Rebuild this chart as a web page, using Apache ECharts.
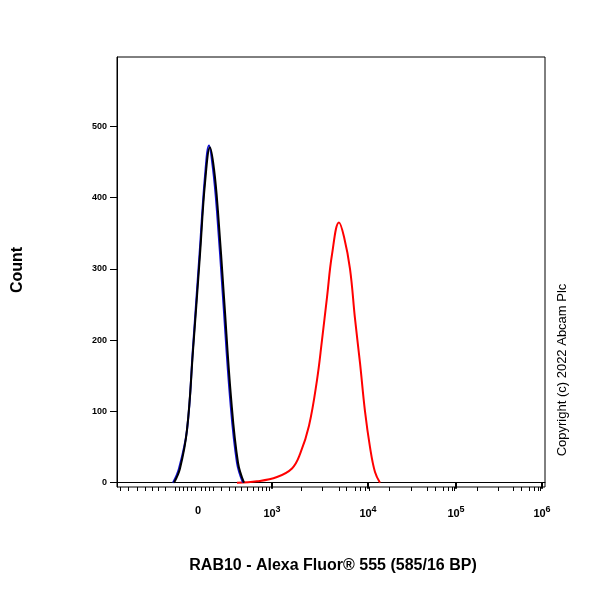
<!DOCTYPE html>
<html><head><meta charset="utf-8">
<script src="https://cdn.jsdelivr.net/npm/echarts@6/dist/echarts.min.js"></script>
<style>html,body{margin:0;background:#fff}#c{width:600px;height:600px}</style>
</head><body><div id="c"></div>
<script>
// x in display units of the biexponential scale (0..428)
const majorPos = [81, 155, 251, 339, 425];
const majorLabels = ['0', '10{s|3}', '10{s|4}', '10{s|5}', '10{s|6}'];
const minorPos = [3,11,20,28,35,41,48,58,62,66,70,74,78,84,88,92,96,104,112,118,124,130,136,141,145,149,152,184,205,222,229,238,243,248,252,272,294,310,318,326,331,335,337,360,381,396,404,412,417,421,423];
const yTicks = [0, 100, 200, 300, 400, 500];
const blueX = [56, 62, 70, 76, 83, 88, 92, 96, 100, 106, 113, 120, 126];
const blueY = [0, 20, 74, 190, 330, 430, 473, 440, 380, 260, 120, 28, 0];
const blackX = [57, 63, 70, 76, 83, 88, 93, 97, 101, 107, 114, 121, 127];
const blackY = [0, 20, 74, 185, 320, 420, 470, 440, 380, 260, 120, 28, 0];
const redX = [120, 140, 160, 175, 183, 192, 200, 205, 210, 215, 222, 227, 233, 238, 243, 248, 253, 258, 263];
const redY = [0, 2, 8, 20, 40, 80, 144, 200, 260, 320, 365, 345, 300, 230, 168, 100, 50, 15, 0];
const zip = (a, b) => a.map((v, i) => [v, b[i]]);
const chart = echarts.init(document.getElementById('c'));
const lbl = {};
majorPos.forEach((p, i) => lbl[p] = majorLabels[i]);
chart.setOption({
  animation: false,
  grid: {left: 117, right: 55, top: 57, bottom: 113, show: true, borderColor: '#000', borderWidth: 1},
  xAxis: [{
    type: 'value', min: 0, max: 428,
    axisLine: {show: true, lineStyle: {color: '#000'}}, splitLine: {show: false},
    axisTick: {show: true, length: 6, lineStyle: {color: '#000', width: 2}, customValues: majorPos.slice(1)},
    axisLabel: {customValues: majorPos, margin: 18, color: '#000', fontFamily: 'Arial', fontWeight: 'bold', fontSize: 11,
      formatter: v => lbl[v] || '', rich: {s: {fontSize: 9, fontWeight: 'bold', verticalAlign: 'top', padding: [0, 0, 8, 0]}}}
  }, {
    type: 'value', min: 0, max: 428, position: 'bottom',
    axisLine: {show: false}, splitLine: {show: false}, axisLabel: {show: false},
    axisTick: {show: true, length: 4, lineStyle: {color: '#000'}, customValues: minorPos}
  }],
  yAxis: {
    type: 'value', min: -6, max: 597,
    axisLine: {show: true, lineStyle: {color: '#000'}}, splitLine: {show: false},
    axisTick: {show: true, length: 7, customValues: yTicks, lineStyle: {color: '#000'}},
    axisLabel: {customValues: yTicks, color: '#000', fontFamily: 'Arial', fontWeight: 'bold', fontSize: 9, margin: 10}
  },
  series: [
    {type: 'line', data: zip(redX, redY), smooth: 0.4, symbol: 'none', lineStyle: {color: '#ff0000', width: 2}},
    {type: 'line', data: zip(blueX, blueY), smooth: 0.4, symbol: 'none', lineStyle: {color: '#1010d0', width: 2}},
    {type: 'line', data: zip(blackX, blackY), smooth: 0.4, symbol: 'none', lineStyle: {color: '#000', width: 2}}
  ],
  graphic: [
    {type: 'text', x: 18, y: 270, rotation: Math.PI / 2, style: {text: 'Count', font: 'bold 16px Arial', fill: '#000', align: 'center', verticalAlign: 'middle'}},
    {type: 'text', x: 333, y: 566, style: {text: 'RAB10 - Alexa Fluor® 555 (585/16 BP)', font: 'bold 16px Arial', fill: '#000', align: 'center', verticalAlign: 'middle'}},
    {type: 'text', x: 562, y: 370, rotation: Math.PI / 2, style: {text: 'Copyright (c) 2022 Abcam Plc', font: '13px Arial', fill: '#000', align: 'center', verticalAlign: 'middle'}}
  ]
});
</script></body></html>
